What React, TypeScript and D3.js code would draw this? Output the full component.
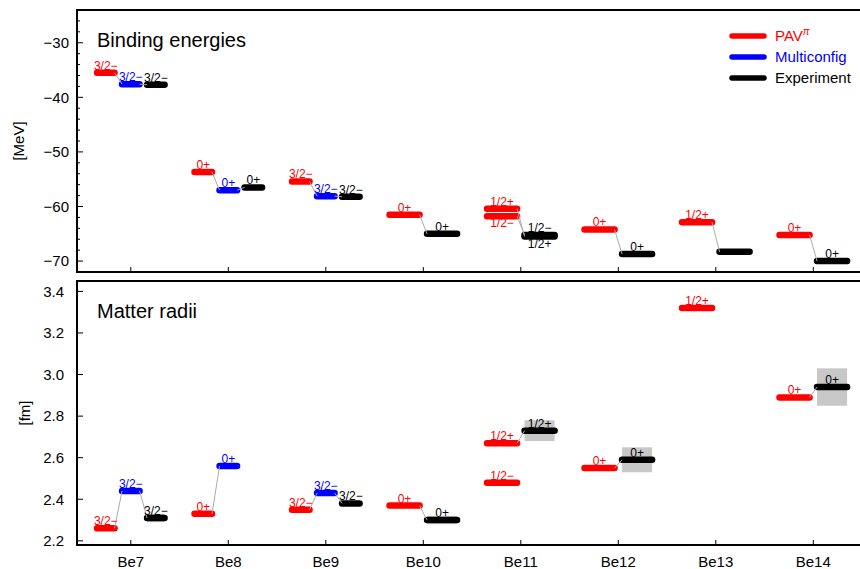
import React from 'react';
import { scaleLinear, range } from 'd3';

// nuclei on the x axis
const nuclei = ['Be7', 'Be8', 'Be9', 'Be10', 'Be11', 'Be12', 'Be13', 'Be14'];

// [nucleus, state, value, experimental error]
type Level = [string, string, number, number?];

// binding energies [MeV]
const energyPAV: Level[] = [
  ['Be7', '3/2−', -35.5],
  ['Be8', '0+', -53.7],
  ['Be9', '3/2−', -55.4],
  ['Be10', '0+', -61.5],
  ['Be11', '1/2+', -60.4],
  ['Be11', '1/2−', -61.8],
  ['Be12', '0+', -64.2],
  ['Be13', '1/2+', -62.9],
  ['Be14', '0+', -65.2],
];
const energyMulti: Level[] = [
  ['Be7', '3/2−', -37.6],
  ['Be8', '0+', -57.0],
  ['Be9', '3/2−', -58.1],
];
const energyExp: Level[] = [
  ['Be7', '3/2−', -37.7],
  ['Be8', '0+', -56.5],
  ['Be9', '3/2−', -58.2],
  ['Be10', '0+', -65.0],
  ['Be11', '1/2−', -65.2],
  ['Be11', '1/2+', -65.5],
  ['Be12', '0+', -68.7],
  ['Be13', '', -68.3],
  ['Be14', '0+', -70.0],
];

// matter radii [fm]
const radiusPAV: Level[] = [
  ['Be7', '3/2−', 2.26],
  ['Be8', '0+', 2.33],
  ['Be9', '3/2−', 2.35],
  ['Be10', '0+', 2.37],
  ['Be11', '1/2+', 2.67],
  ['Be11', '1/2−', 2.48],
  ['Be12', '0+', 2.55],
  ['Be13', '1/2+', 3.32],
  ['Be14', '0+', 2.89],
];
const radiusMulti: Level[] = [
  ['Be7', '3/2−', 2.44],
  ['Be8', '0+', 2.56],
  ['Be9', '3/2−', 2.43],
];
const radiusExp: Level[] = [
  ['Be7', '3/2−', 2.31, 0.02],
  ['Be9', '3/2−', 2.38, 0.01],
  ['Be10', '0+', 2.30, 0.02],
  ['Be11', '1/2+', 2.73, 0.05],
  ['Be12', '0+', 2.59, 0.06],
  ['Be14', '0+', 2.94, 0.09],
];

const energyTicks = [-70, -60, -50, -40, -30];
const radiusTicks = [2.2, 2.4, 2.6, 2.8, 3.0, 3.2, 3.4];

const methods = [
  { key: 'pav', color: '#ff0000', energy: energyPAV, radius: radiusPAV },
  { key: 'multi', color: '#0000ff', energy: energyMulti, radius: radiusMulti },
  { key: 'exp', color: '#000000', energy: energyExp, radius: radiusExp },
];

const FONT = 'Liberation Sans, Arial, Helvetica, sans-serif';
const W = 860;
const H = 569;
const left = 77;
const right = 880;
const sw = 6.5;

const x = scaleLinear().domain([0, nuclei.length - 1]).range([130.8, 813.3]);
const step = x(1) - x(0);
const groupW = 0.77 * step;

// which methods appear for each nucleus (in either panel)
const present: Record<string, string[]> = {};
nuclei.forEach(n => {
  present[n] = methods
    .filter(m => m.energy.some(l => l[0] === n) || m.radius.some(l => l[0] === n))
    .map(m => m.key);
});

type Bar = {
  nuc: string; method: string; color: string; state: string;
  x1: number; x2: number; y: number; err?: number; yErr0?: number; yErr1?: number;
  below: boolean;
};

function buildBars(which: 'energy' | 'radius', y: (v: number) => number): Bar[] {
  const bars: Bar[] = [];
  methods.forEach(m => {
    m[which].forEach(([nuc, state, val, err]) => {
      const list = present[nuc];
      const n = list.length;
      const idx = list.indexOf(m.key);
      const slot = groupW / n;
      const cx = x(nuclei.indexOf(nuc)) + (idx - (n - 1) / 2) * slot;
      const half = slot / 2 - 0.5 - sw / 2;
      const yy = y(val);
      // label goes below when a sibling level of the same method sits just above
      const below = m[which].some(o => o[0] === nuc && o[1] !== state && y(o[2]) < yy && yy - y(o[2]) < 12);
      bars.push({
        nuc, method: m.key, color: m.color, state,
        x1: cx - half, x2: cx + half, y: yy, err,
        yErr0: err != null ? y(val + err) : undefined,
        yErr1: err != null ? y(val - err) : undefined,
        below,
      });
    });
  });
  return bars;
}

function buildLinks(bars: Bar[]) {
  const links: { x1: number; y1: number; x2: number; y2: number }[] = [];
  nuclei.forEach(nuc => {
    const order = present[nuc];
    for (let i = 0; i < order.length - 1; i++) {
      const a = bars.filter(b => b.nuc === nuc && b.method === order[i]);
      const b = bars.filter(b2 => b2.nuc === nuc && b2.method === order[i + 1]);
      a.forEach(la => {
        let lb = b.find(l => l.state === la.state);
        if (!lb && a.length === 1 && b.length === 1) lb = b[0];
        if (lb) links.push({ x1: la.x2, y1: la.y, x2: lb.x1, y2: lb.y });
      });
    }
  });
  return links;
}

type PanelProps = {
  top: number; bottom: number; domain: [number, number]; ticks: number[];
  minor: number[]; fmt: (v: number) => string; which: 'energy' | 'radius';
  title: string; unit: string; unitX: number; labelX: number;
};

function Panel(p: PanelProps) {
  const y = scaleLinear().domain(p.domain).range([p.bottom, p.top]);
  const bars = buildBars(p.which, y);
  const links = buildLinks(bars);
  return (
    <g>
      {bars.filter(b => b.err != null).map((b, i) => (
        <rect key={'e' + i} x={b.x1} width={b.x2 - b.x1} y={b.yErr0} height={(b.yErr1 as number) - (b.yErr0 as number)} fill="#c8c8c8" />
      ))}
      {bars.map((b, i) => (
        <line key={'b' + i} x1={b.x1} x2={b.x2} y1={b.y} y2={b.y} stroke={b.color} strokeWidth={sw} strokeLinecap="round" />
      ))}
      {links.map((l, i) => (
        <line key={'l' + i} x1={l.x1} y1={l.y1} x2={l.x2} y2={l.y2} stroke="#aaaaaa" strokeWidth={1} />
      ))}
      {bars.filter(b => b.state).map((b, i) => (
        <text key={'t' + i} x={(b.x1 + b.x2) / 2} y={b.below ? b.y + 11 : b.y - 3} fill={b.color}
          fontSize={12} textAnchor="middle" fontFamily={FONT}>{b.state}</text>
      ))}
      {/* frame runs off the right edge of the picture */}
      <path d={`M${right},${p.top}H${left}V${p.bottom}H${right}`} fill="none" stroke="#000" strokeWidth={2} />
      {p.ticks.map(t => (
        <g key={'yt' + t}>
          <line x1={left} x2={left + 6} y1={y(t)} y2={y(t)} stroke="#000" strokeWidth={1} />
          <text x={p.labelX} y={y(t)} dy="0.35em" textAnchor="end" fontSize={15} fontFamily={FONT}>{p.fmt(t)}</text>
        </g>
      ))}
      {p.minor.map(t => (
        <line key={'ym' + t} x1={left} x2={left + 3} y1={y(t)} y2={y(t)} stroke="#000" strokeWidth={1} />
      ))}
      {nuclei.map((n, i) => (
        <line key={'xt' + n} x1={x(i)} x2={x(i)} y1={p.bottom} y2={p.bottom - 5} stroke="#000" strokeWidth={1} />
      ))}
      <text x={97} y={p.top + 37} fontSize={20} fontFamily={FONT}>{p.title}</text>
      <text transform={`translate(${p.unitX},${(p.top + p.bottom) / 2}) rotate(-90)`} textAnchor="middle"
        dy="0.35em" fontSize={15} fontFamily={FONT}>{p.unit}</text>
    </g>
  );
}

const legend = [
  { label: 'PAV', color: '#ff0000', sup: 'π' },
  { label: 'Multiconfig', color: '#0000ff', sup: '' },
  { label: 'Experiment', color: '#000000', sup: '' },
];

export default function App() {
  const energyMinor = range(-72, -23, 2).filter(v => v % 10 !== 0 && v > -72);
  return (
    <svg width={W} height={H} style={{ position: 'absolute', left: 0, top: 0, background: '#fff' }}>
      <Panel top={10} bottom={272} domain={[-72, -24]} ticks={energyTicks} minor={energyMinor}
        fmt={v => String(v).replace('-', '−')} which="energy" title="Binding energies" unit="[MeV]"
        unitX={19} labelX={69} />
      <Panel top={281} bottom={545} domain={[2.18, 3.45]} ticks={radiusTicks} minor={[]}
        fmt={v => v.toFixed(1)} which="radius" title="Matter radii" unit="[fm]"
        unitX={25} labelX={64} />
      {nuclei.map((n, i) => (
        <text key={n} x={x(i)} y={567} textAnchor="middle" fontSize={15} fontFamily={FONT}>{n}</text>
      ))}
      {legend.map((d, i) => (
        <g key={d.label} transform={`translate(0,${36 + i * 21})`}>
          <line x1={732} x2={764} y1={0} y2={0} stroke={d.color} strokeWidth={5.5} strokeLinecap="round" />
          <text x={775} y={5} fill={d.color} fontSize={15} fontFamily={FONT}>
            {d.label}
            {d.sup && <tspan dy={-6} fontSize={10} fontStyle="italic">{d.sup}</tspan>}
          </text>
        </g>
      ))}
    </svg>
  );
}
